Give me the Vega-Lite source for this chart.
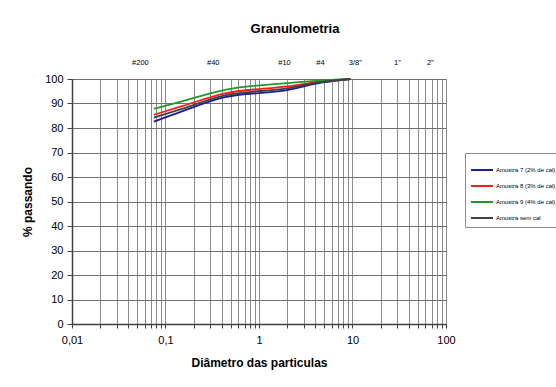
{
  "$schema": "https://vega.github.io/schema/vega-lite/v6.json",
  "autosize": "none",
  "padding": {"left": 72, "top": 79, "right": 110, "bottom": 63},
  "width": 374,
  "height": 245,
  "background": "white",
  "config": {
    "font": "Liberation Sans",
    "view": {"stroke": "#8c8c8c", "strokeWidth": 1}
  },
  "title": {
    "text": "Granulometria",
    "fontSize": 13,
    "fontWeight": "bold",
    "font": "Liberation Sans",
    "color": "#000000",
    "anchor": "middle",
    "dx": 36,
    "offset": 22
  },
  "datasets": {
    "curves": [
      {"d": 0.075, "p": 82.6, "s": "Amostra 7 (2% de cal)"},
      {"d": 0.15, "p": 86.8, "s": "Amostra 7 (2% de cal)"},
      {"d": 0.42, "p": 92.5, "s": "Amostra 7 (2% de cal)"},
      {"d": 2.0, "p": 95.5, "s": "Amostra 7 (2% de cal)"},
      {"d": 4.8, "p": 98.6, "s": "Amostra 7 (2% de cal)"},
      {"d": 9.5, "p": 100, "s": "Amostra 7 (2% de cal)"},
      {"d": 0.075, "p": 85.4, "s": "Amostra 8 (3% de cal)"},
      {"d": 0.15, "p": 88.9, "s": "Amostra 8 (3% de cal)"},
      {"d": 0.42, "p": 94.0, "s": "Amostra 8 (3% de cal)"},
      {"d": 2.0, "p": 97.0, "s": "Amostra 8 (3% de cal)"},
      {"d": 4.8, "p": 99.0, "s": "Amostra 8 (3% de cal)"},
      {"d": 9.5, "p": 100, "s": "Amostra 8 (3% de cal)"},
      {"d": 0.075, "p": 87.8, "s": "Amostra 9 (4% de cal)"},
      {"d": 0.15, "p": 90.9, "s": "Amostra 9 (4% de cal)"},
      {"d": 0.42, "p": 95.5, "s": "Amostra 9 (4% de cal)"},
      {"d": 2.0, "p": 98.3, "s": "Amostra 9 (4% de cal)"},
      {"d": 4.8, "p": 99.4, "s": "Amostra 9 (4% de cal)"},
      {"d": 9.5, "p": 100, "s": "Amostra 9 (4% de cal)"},
      {"d": 0.075, "p": 84.2, "s": "Amostra sem cal"},
      {"d": 0.15, "p": 87.8, "s": "Amostra sem cal"},
      {"d": 0.42, "p": 93.2, "s": "Amostra sem cal"},
      {"d": 2.0, "p": 96.2, "s": "Amostra sem cal"},
      {"d": 4.8, "p": 98.8, "s": "Amostra sem cal"},
      {"d": 9.5, "p": 100, "s": "Amostra sem cal"}
    ],
    "sieves": [
      {"lbl": "#200", "d": 0.0533},
      {"lbl": "#40", "d": 0.32},
      {"lbl": "#10", "d": 1.85},
      {"lbl": "#4", "d": 4.49},
      {"lbl": "3/8\"", "d": 10.6},
      {"lbl": "1\"", "d": 29.9},
      {"lbl": "2\"", "d": 67.4}
    ]
  },
  "resolve": {"axis": {"x": "independent"}},
  "layer": [
    {
      "data": {"name": "curves"},
      "mark": {"type": "line", "strokeWidth": 1.8, "interpolate": "monotone"},
      "encoding": {
        "x": {
          "field": "d",
          "type": "quantitative",
          "scale": {"type": "log", "domain": [0.01, 100], "nice": false},
          "axis": {
            "title": "Diâmetro das particulas",
            "titleFontSize": 12,
            "titleFontWeight": "bold",
            "titleColor": "#000",
            "titlePadding": 12,
            "values": [0.01,0.02,0.03,0.04,0.05,0.06,0.07,0.08,0.09,0.1,0.2,0.3,0.4,0.5,0.6,0.7,0.8,0.9,1,2,3,4,5,6,7,8,9,10,20,30,40,50,60,70,80,90,100],
            "labelExpr": "indexof(['0.01','0.1','1','10','100'], format(datum.value, '')) >= 0 ? replace(format(datum.value, ''), '.', ',') : ''",
            "labelFontSize": 11,
            "labelColor": "#000",
            "labelPadding": 6,
            "labelFlush": false,
            "labelOverlap": false,
            "grid": true,
            "gridColor": "#8c8c8c",
            "gridOpacity": 1,
            "gridWidth": 1,
            "domainColor": "#404040",
            "domainWidth": 1.5,
            "tickColor": "#404040",
            "tickSize": 4
          }
        },
        "y": {
          "field": "p",
          "type": "quantitative",
          "scale": {"domain": [0, 100], "nice": false},
          "axis": {
            "title": "% passando",
            "titleFontSize": 12,
            "titleFontWeight": "bold",
            "titleColor": "#000",
            "titlePadding": 10,
            "values": [0,10,20,30,40,50,60,70,80,90,100],
            "labelOverlap": false,
            "labelFontSize": 11,
            "labelColor": "#000",
            "labelPadding": 4,
            "grid": true,
            "gridColor": "#707070",
            "gridOpacity": 1,
            "gridWidth": 1,
            "domainColor": "#404040",
            "domainWidth": 1.5,
            "tickColor": "#404040",
            "tickSize": 5
          }
        },
        "color": {
          "field": "s",
          "type": "nominal",
          "scale": {
            "domain": ["Amostra 7 (2% de cal)", "Amostra 8 (3% de cal)", "Amostra 9 (4% de cal)", "Amostra sem cal"],
            "range": ["#1c1c99", "#ff1a1a", "#1f9a2a", "#404040"]
          },
          "legend": {
            "title": null,
            "orient": "none",
            "legendX": 393,
            "legendY": 74,
            "symbolType": "stroke",
            "symbolSize": 484,
            "symbolStrokeWidth": 2,
            "labelFontSize": 6,
            "labelOffset": 2,
            "labelColor": "#000",
            "labelLimit": 200,
            "rowPadding": -6,
            "padding": 5,
            "strokeColor": "#8c8c8c",
            "fillColor": "white"
          }
        }
      }
    },
    {
      "data": {"name": "sieves"},
      "mark": {"type": "text", "opacity": 0},
      "encoding": {
        "x": {
          "field": "d",
          "type": "quantitative",
          "axis": {
            "orient": "top",
            "title": null,
            "values": [0.0533, 0.32, 1.85, 4.49, 10.6, 29.9, 67.4],
            "labelExpr": "datum.value < 0.1 ? '#200' : datum.value < 1 ? '#40' : datum.value < 3 ? '#10' : datum.value < 6 ? '#4' : datum.value < 20 ? '3/8\"' : datum.value < 50 ? '1\"' : '2\"'",
            "labelFontSize": 7.5,
            "labelColor": "#000",
            "labelPadding": 13,
            "labelOverlap": false,
            "labelFlush": false,
            "grid": false,
            "ticks": false,
            "domain": false
          }
        },
        "text": {"field": "lbl"}
      }
    }
  ]
}
